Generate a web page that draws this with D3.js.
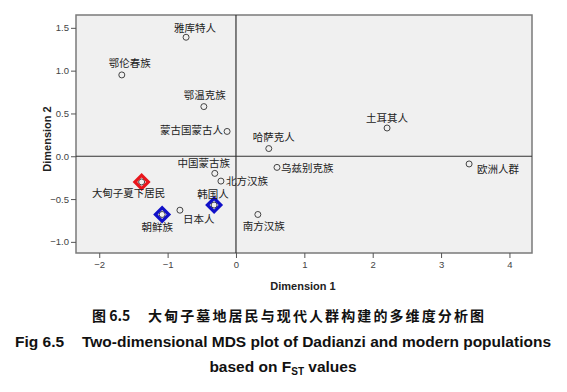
<!DOCTYPE html>
<html>
<head>
<meta charset="utf-8">
<script src="https://cdn.jsdelivr.net/npm/d3@7"></script>
<style>
  body { margin: 0; background: #fff; }
  svg { display: block; }
</style>
</head>
<body>
<svg id="chart" width="567" height="392"></svg>
<script>
// 人群名称与 MDS 坐标
const names = ["雅库特人", "鄂伦春族", "鄂温克族", "蒙古国蒙古人", "哈萨克人", "土耳其人",
  "欧洲人群", "乌兹别克族", "中国蒙古族", "北方汉族", "大甸子夏下居民", "朝鲜族",
  "日本人", "韩国人", "南方汉族"];
const dim1 = [-0.73, -1.67, -0.47, -0.13, 0.48, 2.21, 3.41, 0.60, -0.31, -0.22, -1.38, -1.08, -0.82, -0.32, 0.32];
const dim2 = [1.39, 0.95, 0.58, 0.29, 0.09, 0.33, -0.09, -0.13, -0.20, -0.29, -0.30, -0.68, -0.63, -0.57, -0.68];
const xTicks = [-2, -1, 0, 1, 2, 3, 4];
const yTicks = [1.5, 1.0, 0.5, 0.0, -0.5, -1.0];
// 标记: 红色=大甸子, 蓝色=朝鲜族/韩国人
const redMark = ["大甸子夏下居民"];
const blueMark = ["朝鲜族", "韩国人"];

// 标签摆放 (相对点的偏移)
const labelPos = {
  "雅库特人": [9, -9, "middle"],
  "鄂伦春族": [8, -12, "middle"],
  "鄂温克族": [1, -11, "middle"],
  "蒙古国蒙古人": [-4, -1, "end"],
  "哈萨克人": [-16, -11, "start"],
  "土耳其人": [0, -10, "middle"],
  "欧洲人群": [8, 5, "start"],
  "乌兹别克族": [4, 1, "start"],
  "中国蒙古族": [-11, -10, "middle"],
  "北方汉族": [5, 0, "start"],
  "大甸子夏下居民": [-13, 11, "middle"],
  "朝鲜族": [-5, 13, "middle"],
  "日本人": [3, 9, "start"],
  "韩国人": [-1, -11, "middle"],
  "南方汉族": [6, 12, "middle"]
};

const data = names.map((n, i) => ({ name: n, x: dim1[i], y: dim2[i] }));

const svg = d3.select("#chart");
const plotL = 76, plotR = 532, plotT = 15, plotB = 253;

const x = d3.scaleLinear().domain([-2.34, 4.33]).range([plotL, plotR]);
const y = d3.scaleLinear().domain([-1.13, 1.65]).range([plotB, plotT]);

// 绘图区背景与边框
svg.append("rect")
  .attr("x", plotL).attr("y", plotT)
  .attr("width", plotR - plotL).attr("height", plotB - plotT)
  .attr("fill", "#f0f0f0")
  .attr("stroke", "#7a7a7a")
  .attr("stroke-width", 1.5);

// 零参考线
svg.append("line")
  .attr("x1", x(0)).attr("x2", x(0))
  .attr("y1", plotT).attr("y2", plotB)
  .attr("stroke", "#333").attr("stroke-width", 1.2);
svg.append("line")
  .attr("x1", plotL).attr("x2", plotR)
  .attr("y1", y(0)).attr("y2", y(0))
  .attr("stroke", "#333").attr("stroke-width", 1.2);

// 坐标轴
const xAxis = svg.append("g")
  .attr("transform", `translate(0,${plotB})`)
  .call(d3.axisBottom(x).tickValues(xTicks).tickSize(5).tickPadding(3).tickFormat(d3.format("d")));
const yAxis = svg.append("g")
  .attr("transform", `translate(${plotL},0)`)
  .call(d3.axisLeft(y).tickValues(yTicks).tickSize(5).tickPadding(2).tickFormat(d3.format(".1f")));

[xAxis, yAxis].forEach(g => {
  g.select(".domain").remove();
  g.selectAll(".tick line").attr("stroke", "#555");
  g.selectAll(".tick text")
    .attr("fill", "#444")
    .style("font-family", "Liberation Sans, Arial, sans-serif")
    .style("font-size", "9.5px");
});

// 轴标题
svg.append("text")
  .attr("x", 303).attr("y", 290)
  .attr("text-anchor", "middle")
  .style("font-family", "Liberation Sans, Arial, sans-serif")
  .style("font-size", "11px").style("font-weight", "bold")
  .attr("fill", "#222")
  .text("Dimension 1");
svg.append("text")
  .attr("transform", "translate(51,139) rotate(-90)")
  .attr("text-anchor", "middle")
  .style("font-family", "Liberation Sans, Arial, sans-serif")
  .style("font-size", "11px").style("font-weight", "bold")
  .attr("fill", "#222")
  .text("Dimension 2");

// 数据点
svg.append("g")
  .selectAll("circle")
  .data(data)
  .join("circle")
  .attr("cx", d => x(d.x))
  .attr("cy", d => y(d.y))
  .attr("r", 3)
  .attr("fill", "none")
  .attr("stroke", "#444")
  .attr("stroke-width", 1);

// 菱形标记
const diamond = d3.symbol().type(d3.symbolSquare).size(90);
svg.append("g")
  .selectAll("path")
  .data(data.filter(d => redMark.includes(d.name) || blueMark.includes(d.name)))
  .join("path")
  .attr("d", diamond)
  .attr("transform", d => `translate(${x(d.x)},${y(d.y)}) rotate(45)`)
  .attr("fill", "none")
  .attr("stroke", d => redMark.includes(d.name) ? "#e8161c" : "#1010c8")
  .attr("stroke-width", 3.2);

// 标签
svg.append("g")
  .selectAll("text")
  .data(data)
  .join("text")
  .attr("x", d => x(d.x) + labelPos[d.name][0])
  .attr("y", d => y(d.y) + labelPos[d.name][1])
  .attr("dy", "0.35em")
  .attr("text-anchor", d => labelPos[d.name][2])
  .style("font-family", "Noto Sans CJK SC, sans-serif")
  .style("font-size", "10.5px")
  .attr("fill", "#222")
  .text(d => d.name);

// 图注
svg.append("text")
  .attr("x", 92).attr("y", 321)
  .style("font-family", "Noto Sans CJK SC, sans-serif")
  .style("font-size", "14px").style("font-weight", "bold")
  .attr("fill", "#111")
  .text("图 6.5")
  .append("tspan").attr("x", 148)
  .style("letter-spacing", "2.1px")
  .text("大甸子墓地居民与现代人群构建的多维度分析图");

svg.append("text")
  .attr("x", 15).attr("y", 347)
  .style("font-family", "Liberation Sans, Arial, sans-serif")
  .style("font-size", "15.5px").style("font-weight", "bold")
  .attr("fill", "#111")
  .text("Fig 6.5")
  .append("tspan").attr("x", 82)
  .text("Two-dimensional MDS plot of Dadianzi and modern populations");

const t3 = svg.append("text")
  .attr("x", 283).attr("y", 372)
  .attr("text-anchor", "middle")
  .style("font-family", "Liberation Sans, Arial, sans-serif")
  .style("font-size", "15.5px").style("font-weight", "bold")
  .attr("fill", "#111");
t3.append("tspan").text("based on F");
t3.append("tspan").attr("dy", 3).style("font-size", "10px").text("ST");
t3.append("tspan").attr("dy", -3).text(" values");
</script>
</body>
</html>
